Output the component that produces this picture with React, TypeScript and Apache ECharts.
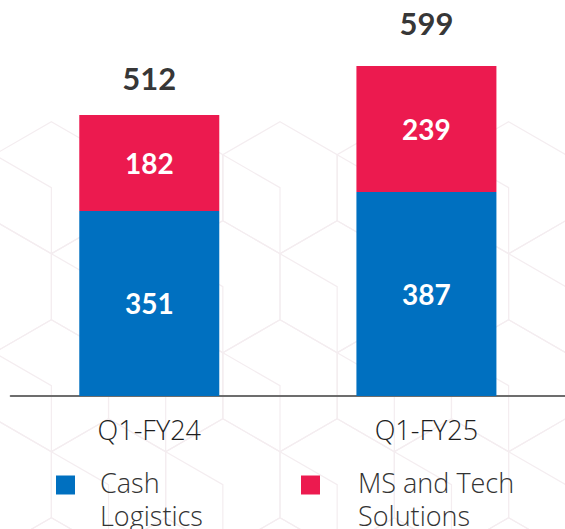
import React, { useEffect, useRef } from "react";
import * as echarts from "echarts";

const categories = ["Q1-FY24", "Q1-FY25"];
const cashLogistics = [351, 387];
const msTechSolutions = [182, 239];
const totals = [512, 599];
const seriesNames = ["Cash Logistics", "MS and Tech Solutions"];
const legendLines = [
  ["Cash", "Logistics"],
  ["MS and Tech", "Solutions"],
];

const BLUE = "#0070C0";
const RED = "#EC1A4F";

function buildPattern() {
  const s = 66;
  const dx = s * Math.sqrt(3);
  const dy = 99;
  const cx0 = 280;
  const cy0 = 187.7;
  const els: any[] = [];
  const stroke = "#f4edf0";
  for (let row = 0; row < 5; row++) {
    const cy = cy0 + row * dy;
    const off = row % 2 === 1 ? dx / 2 : 0;
    for (let k = -4; k <= 4; k++) {
      const cx = cx0 + k * dx + off;
      const pts: number[][] = [];
      for (let a = 0; a < 6; a++) {
        const ang = ((-90 + 60 * a) * Math.PI) / 180;
        pts.push([cx + s * Math.cos(ang), cy + s * Math.sin(ang)]);
      }
      els.push({
        type: "polygon",
        silent: true,
        z: -10,
        shape: { points: pts },
        style: { fill: "none", stroke, lineWidth: 1.2 },
      });
      els.push({
        type: "polyline",
        silent: true,
        z: -10,
        shape: { points: [pts[5], [cx, cy], pts[3]] },
        style: { fill: "none", stroke, lineWidth: 1.2 },
      });
    }
  }
  return els;
}

export default function App() {
  const ref = useRef<HTMLDivElement>(null);
  useEffect(() => {
    if (!ref.current) return;
    const chart = echarts.init(ref.current, null, { renderer: "svg" });
    const boldFont = "Lato, 'Open Sans', sans-serif";
    const lightFont = "'Open Sans', Lato, sans-serif";
    const legendText = (pad: number) => ({
      padding: [0, 0, 0, pad],
      rich: {
        e: { fontSize: 10, lineHeight: 27 },
        t: {
          fontSize: 27,
          lineHeight: 33,
          color: "#333333",
          fontFamily: lightFont,
          fontWeight: 300,
        },
      },
    });
    const legendFormat = (i: number) => () =>
      "{e| }\n" + legendLines[i].map((l) => "{t|" + l + "}").join("\n");
    const option: any = {
      animation: false,
      backgroundColor: "#ffffff",
      graphic: { elements: buildPattern() },
      grid: { left: 10.7, right: -5.7, top: 27, bottom: 133 },
      xAxis: {
        type: "category",
        data: categories,
        axisLine: { show: true, lineStyle: { color: "#6d6d6d", width: 2 } },
        axisTick: { show: false },
        axisLabel: {
          margin: 20,
          fontSize: 27,
          fontFamily: lightFont,
          fontWeight: 300,
          color: "#1e1e1e",
        },
      },
      yAxis: {
        type: "value",
        min: 0,
        max: 700,
        show: false,
        splitLine: { show: false },
      },
      legend: [
        {
          data: [seriesNames[0]],
          left: 56,
          top: 447,
          padding: 0,
          icon: "rect",
          itemWidth: 19,
          itemHeight: 19,
          selectedMode: false,
          formatter: legendFormat(0),
          textStyle: legendText(20),
        },
        {
          data: [seriesNames[1]],
          left: 301,
          top: 447,
          padding: 0,
          icon: "rect",
          itemWidth: 19,
          itemHeight: 19,
          selectedMode: false,
          formatter: legendFormat(1),
          textStyle: legendText(33),
        },
      ],
      series: [
        {
          name: seriesNames[0],
          type: "bar",
          stack: "total",
          barWidth: 140,
          data: cashLogistics,
          itemStyle: { color: BLUE },
          label: {
            show: true,
            position: "inside",
            color: "#ffffff",
            fontSize: 28,
            fontWeight: "bold",
            fontFamily: boldFont,
          },
        },
        {
          name: seriesNames[1],
          type: "bar",
          stack: "total",
          barWidth: 140,
          data: msTechSolutions,
          itemStyle: { color: RED },
          label: {
            show: true,
            position: "inside",
            color: "#ffffff",
            fontSize: 28,
            fontWeight: "bold",
            fontFamily: boldFont,
          },
        },
        {
          name: "Total",
          type: "scatter",
          symbolSize: 0,
          z: 5,
          data: cashLogistics.map((v, i) => ({
            value: v + msTechSolutions[i],
            label: { distance: i === 0 ? 22 : 28 },
          })),
          label: {
            show: true,
            position: "top",
            formatter: (p: any) => String(totals[p.dataIndex]),
            color: "#000000",
            fontSize: 31,
            fontWeight: "bold",
            fontFamily: boldFont,
          },
        },
      ],
    };
    chart.setOption(option);
    return () => chart.dispose();
  }, []);
  return (
    <div
      ref={ref}
      style={{ position: "fixed", left: 0, top: 0, width: 565, height: 529 }}
    />
  );
}
